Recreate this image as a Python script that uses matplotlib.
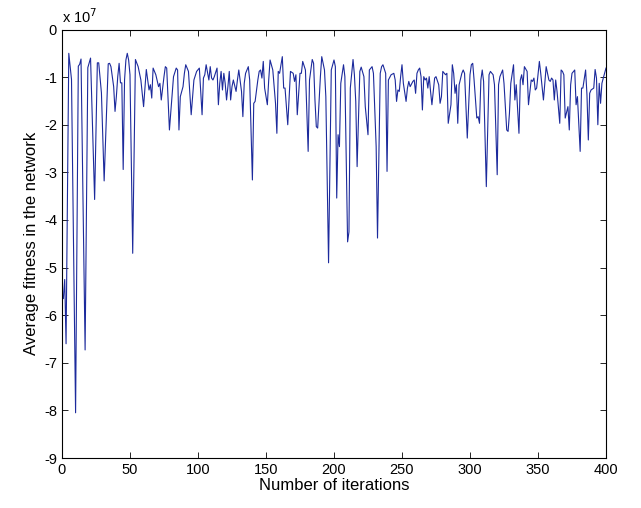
import matplotlib
matplotlib.use("Agg")
import matplotlib.pyplot as plt

plt.rcParams["font.family"] = ["Liberation Sans", "DejaVu Sans"]

# iteration numbers and average fitness (units of 1e7)
iterations = [
    1, 2, 3, 5, 7, 10, 12, 13, 14, 17, 19, 21, 24, 26, 27, 29, 31, 34, 35, 36,
    38, 39, 40, 41, 42, 43, 44, 45, 46, 47, 48, 49, 50, 52, 54, 56, 58, 60, 62, 64,
    65, 66, 67, 69, 71, 72, 73, 75, 76, 77, 79, 82, 84, 85, 86, 87, 89, 90, 91, 93,
    95, 97, 99, 101, 103, 104, 105, 106, 108, 109, 110, 111, 112, 114, 115, 116, 117, 118, 119, 120,
    121, 122, 123, 124, 125, 126, 128, 129, 130, 132, 133, 134, 135, 137, 138, 140, 141, 142, 144, 145,
    146, 147, 148, 149, 151, 152, 153, 155, 157, 158, 159, 160, 162, 163, 164, 166, 168, 170, 171, 172,
    173, 175, 176, 177, 179, 181, 182, 184, 185, 186, 187, 188, 190, 191, 193, 194, 196, 198, 200, 201,
    202, 203, 204, 205, 207, 208, 210, 211, 212, 214, 215, 216, 217, 219, 220, 222, 223, 225, 226, 228,
    229, 231, 232, 234, 235, 236, 238, 239, 240, 242, 244, 245, 246, 247, 248, 249, 250, 251, 253, 254,
    255, 256, 258, 259, 260, 261, 262, 263, 264, 265, 266, 267, 268, 269, 270, 271, 272, 274, 275, 277,
    278, 279, 280, 282, 283, 284, 286, 287, 288, 289, 290, 291, 292, 294, 295, 296, 298, 300, 301, 302,
    303, 305, 306, 307, 308, 309, 310, 312, 314, 315, 317, 318, 320, 321, 322, 324, 325, 327, 328, 329,
    330, 332, 333, 334, 336, 337, 338, 339, 340, 342, 343, 345, 346, 347, 348, 349, 351, 352, 354, 355,
    356, 358, 359, 360, 361, 362, 363, 364, 366, 367, 368, 369, 370, 372, 373, 374, 375, 377, 378, 379,
    381, 382, 383, 385, 386, 387, 388, 389, 391, 392, 393, 394, 395, 396, 397, 398, 400,
]
fitness = [
    -5.65, -5.25, -6.60, -0.50, -1.05, -8.05, -0.77, -0.73, -0.62, -6.73, -0.80, -0.60, -3.57, -0.70, -0.70, -1.33, -3.18, -0.72, -0.71, -0.78,
    -1.20, -1.72, -1.40, -0.99, -0.71, -1.12, -1.12, -2.94, -1.06, -0.64, -0.50, -0.64, -0.95, -4.70, -0.63, -0.78, -1.06, -1.62, -0.84, -1.27,
    -1.16, -1.44, -0.81, -0.95, -1.20, -1.13, -1.48, -0.99, -0.78, -0.81, -2.11, -0.99, -0.81, -0.85, -2.11, -1.41, -1.20, -0.92, -0.74, -0.88,
    -1.79, -1.06, -0.88, -0.81, -1.79, -1.02, -0.95, -0.74, -1.06, -0.78, -1.02, -1.06, -0.99, -0.81, -1.58, -1.13, -0.88, -1.27, -0.92, -1.13,
    -1.48, -1.20, -0.88, -1.48, -1.20, -1.06, -1.30, -1.06, -0.85, -1.30, -1.83, -1.13, -0.92, -0.78, -1.06, -3.16, -1.55, -1.51, -1.06, -0.88,
    -0.85, -1.02, -0.67, -1.23, -1.58, -1.06, -0.64, -0.85, -1.55, -2.18, -0.88, -0.92, -0.57, -1.23, -1.23, -2.00, -0.88, -0.92, -1.09, -0.95,
    -1.79, -0.92, -0.92, -0.67, -0.85, -2.56, -1.06, -0.63, -0.71, -1.48, -2.04, -2.07, -0.99, -0.57, -0.85, -1.41, -4.90, -0.85, -0.64, -0.78,
    -3.54, -2.21, -2.46, -1.13, -0.74, -0.99, -4.46, -4.25, -1.23, -0.63, -0.95, -1.51, -2.88, -0.88, -0.79, -0.99, -1.62, -2.21, -0.85, -0.78,
    -0.92, -2.46, -4.38, -0.92, -0.78, -0.74, -0.92, -2.98, -1.06, -0.95, -0.92, -1.06, -1.51, -1.27, -1.30, -0.99, -0.74, -1.13, -1.51, -1.23,
    -1.09, -1.20, -1.09, -1.06, -1.34, -0.92, -0.85, -0.81, -0.99, -1.69, -0.99, -1.06, -1.02, -1.23, -0.99, -1.30, -1.58, -1.02, -0.99, -1.16,
    -1.55, -1.41, -0.88, -0.95, -0.92, -1.97, -1.58, -0.74, -0.92, -1.34, -1.16, -1.97, -1.16, -0.92, -0.85, -0.92, -2.28, -0.95, -0.74, -0.71,
    -1.06, -1.86, -1.83, -1.97, -1.06, -0.85, -1.09, -3.30, -0.95, -0.88, -0.95, -1.16, -3.05, -1.16, -0.99, -0.85, -1.13, -2.11, -2.14, -1.76,
    -1.13, -0.74, -1.48, -1.16, -2.18, -1.06, -0.95, -1.16, -0.78, -0.88, -1.58, -1.06, -1.09, -1.02, -1.27, -1.23, -0.67, -0.92, -1.48, -1.13,
    -0.78, -1.06, -1.09, -1.02, -1.06, -1.48, -1.06, -1.30, -1.97, -0.85, -0.88, -0.95, -1.86, -1.62, -2.11, -1.16, -0.92, -0.85, -1.58, -1.41,
    -2.56, -1.23, -1.23, -0.85, -1.37, -2.32, -1.34, -1.27, -1.23, -0.84, -1.02, -2.00, -1.13, -1.55, -1.13, -1.02, -0.81,
]

x_ticks = [0, 50, 100, 150, 200, 250, 300, 350, 400]
y_ticks = [0, -1, -2, -3, -4, -5, -6, -7, -8, -9]

fig = plt.figure(figsize=(6.41, 5.08), dpi=100)
ax = fig.add_axes([0.0967, 0.0984, 0.8487, 0.8435])

ax.plot(iterations, fitness, color="#1c2a9c", linewidth=0.8)

ax.set_xlim(0, 400)
ax.set_ylim(-9, 0)
ax.set_xticks(x_ticks)
ax.set_yticks(y_ticks)
ax.set_yticklabels([str(t) for t in y_ticks])
ax.tick_params(direction="in", top=True, right=True, labelsize=10.5, length=4, width=0.6)
for spine in ax.spines.values():
    spine.set_linewidth(0.8)

ax.set_xlabel("Number of iterations", fontsize=12, labelpad=1)
ax.set_ylabel("Average fitness in the network", fontsize=12, labelpad=4)
ax.text(0.0, 1.008, r"x 10$^7$", transform=ax.transAxes, fontsize=10.5, va="bottom", ha="left")

fig.savefig("out.png", dpi=100)
